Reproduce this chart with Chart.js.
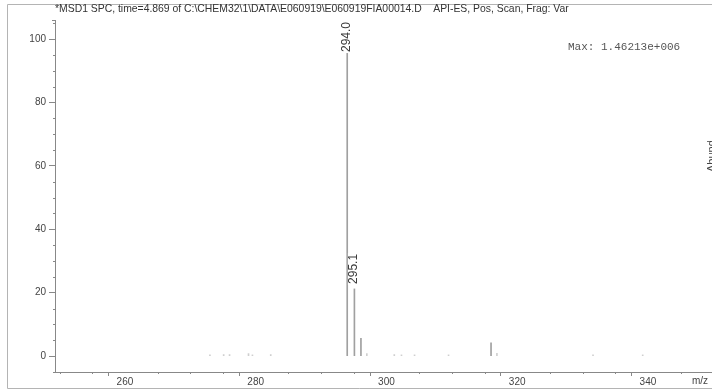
<!DOCTYPE html>
<html>
<head>
<meta charset="utf-8">
<script src="https://cdn.jsdelivr.net/npm/chart.js@4/dist/chart.umd.min.js"></script>
<style>
html,body{margin:0;padding:0;background:#fff;}
#wrap{width:712px;height:390px;}
</style>
</head>
<body>
<div id="wrap"><canvas id="c" width="712" height="390"></canvas></div>
<script>
// ---- data ----
const mzValues = [273.0, 275.1, 276.0, 278.9, 279.5, 282.3, 294.0, 295.1, 296.1, 297.0, 301.2, 302.3, 304.3, 309.5, 316.0, 316.9, 331.6, 339.2];
const abundance = [0.4, 0.5, 0.5, 0.8, 0.4, 0.5, 100, 21.2, 5.6, 0.8, 0.5, 0.4, 0.4, 0.4, 4.2, 0.9, 0.4, 0.4];
const peakLabels = ["294.0", "295.1"];
const peakLabelMz = [294.0, 295.1];
const xTickLabels = [260, 280, 300, 320, 340];
const yTickLabels = [0, 20, 40, 60, 80, 100];
const titleText = "*MSD1 SPC, time=4.869 of C:\\CHEM32\\1\\DATA\\E060919\\E060919FIA00014.D    API-ES, Pos, Scan, Frag: Var";
const maxText = "Max: 1.46213e+006";

const points = mzValues.map((m, i) => ({x: m, y: abundance[i]}));

const framePlugin = {
  id: 'frame',
  beforeDraw(chart) {
    const ctx = chart.ctx;
    ctx.save();
    ctx.fillStyle = '#fff';
    ctx.fillRect(0, 0, chart.width, chart.height);
    ctx.strokeStyle = '#b4b4b4';
    ctx.lineWidth = 1;
    ctx.beginPath();
    ctx.moveTo(712, 4.5); ctx.lineTo(7.5, 4.5); ctx.lineTo(7.5, 388.5); ctx.lineTo(712, 388.5);
    ctx.stroke();
    ctx.fillStyle = '#333';
    ctx.font = '10.4px "Liberation Sans", Arial, sans-serif';
    ctx.textBaseline = 'middle';
    ctx.textAlign = 'left';
    ctx.fillText(titleText, 55, 9);
    ctx.fillStyle = '#555';
    ctx.font = '11px "Liberation Mono", "DejaVu Sans Mono", monospace';
    ctx.fillText(maxText, 568, 47);
    ctx.fillStyle = '#444';
    ctx.font = '10px "Liberation Sans", Arial, sans-serif';
    ctx.fillText('m/z', 692, 381);
    ctx.save();
    ctx.translate(712, 172);
    ctx.rotate(-Math.PI / 2);
    ctx.textBaseline = 'middle';
    ctx.font = '11px "Liberation Sans", Arial, sans-serif';
    ctx.fillText('Abund', 0, 0);
    ctx.restore();
    ctx.restore();
  }
};

const minorTickPlugin = {
  id: 'minorTicks',
  afterDraw(chart) {
    const ctx = chart.ctx;
    const xs = chart.scales.x, ys = chart.scales.y;
    const a = chart.chartArea;
    ctx.save();
    ctx.strokeStyle = '#888';
    ctx.lineWidth = 1;
    ctx.beginPath();
    xs.ticks.forEach(t => {
      if (t.value % 20 !== 0) {
        const px = Math.round(xs.getPixelForValue(t.value)) + 0.5;
        ctx.moveTo(px, a.bottom); ctx.lineTo(px, a.bottom + 2);
      }
    });
    ys.ticks.forEach(t => {
      if (t.value % 20 !== 0) {
        const py = Math.round(ys.getPixelForValue(t.value)) + 0.5;
        ctx.moveTo(a.left, py); ctx.lineTo(a.left - 2, py);
      }
    });
    ctx.moveTo(a.left, a.top + 0.5); ctx.lineTo(a.left - 3, a.top + 0.5);
    ctx.stroke();
    ctx.restore();
  }
};

const peakLabelPlugin = {
  id: 'peakLabels',
  afterDatasetsDraw(chart) {
    const ctx = chart.ctx;
    const xs = chart.scales.x, ys = chart.scales.y;
    const a = chart.chartArea;
    ctx.save();
    ctx.font = '12px "Liberation Sans", Arial, sans-serif';
    peakLabels.forEach((txt, i) => {
      const mz = peakLabelMz[i];
      const idx = mzValues.indexOf(mz);
      const val = abundance[idx];
      const px = xs.getPixelForValue(mz) - 0.5;
      let bottom = ys.getPixelForValue(val) - 5;
      const w = ctx.measureText(txt).width;
      if (bottom - w < a.top + 2) bottom = a.top + 2 + w;
      ctx.save();
      ctx.translate(px, bottom);
      ctx.rotate(-Math.PI / 2);
      ctx.fillStyle = '#fff';
      ctx.fillRect(-1, -6, w + 2, 12);
      ctx.fillStyle = '#3a3a3a';
      ctx.textAlign = 'left';
      ctx.textBaseline = 'middle';
      ctx.fillText(txt, 0, 0);
      ctx.restore();
    });
    ctx.restore();
  }
};

new Chart(document.getElementById('c'), {
  type: 'bar',
  data: {
    datasets: [{
      data: points,
      barThickness: 1,
      backgroundColor: (c) => (c.raw && c.raw.y > 2) ? '#a0a0a0' : '#cfcfcf',
      borderWidth: 0
    }]
  },
  options: {
    responsive: false,
    animation: false,
    devicePixelRatio: 1,
    layout: {padding: {top: 20, left: 0, right: 0, bottom: 0}},
    plugins: {legend: {display: false}, tooltip: {enabled: false}, title: {display: false}},
    scales: {
      x: {
        type: 'linear',
        min: 249.3,
        max: 349.8,
        offset: false,
        afterFit: (s) => { s.height = 18; },
        ticks: {
          stepSize: 5,
          autoSkip: false,
          maxRotation: 0,
          includeBounds: false,
          padding: 0,
          color: '#444',
          font: {family: '"Liberation Sans", Arial, sans-serif', size: 10},
          callback: (v) => xTickLabels.includes(v) ? String(v) : ''
        },
        grid: {
          drawOnChartArea: false,
          tickLength: 4,
          tickColor: (c) => (c.tick && c.tick.value % 20 === 0) ? '#888' : 'rgba(0,0,0,0)'
        },
        border: {color: '#888', width: 1}
      },
      y: {
        min: -5,
        max: 106,
        afterFit: (s) => { s.width = 55; },
        ticks: {
          stepSize: 5,
          autoSkip: false,
          includeBounds: false,
          padding: 3,
          color: '#444',
          font: {family: '"Liberation Sans", Arial, sans-serif', size: 10},
          callback: (v) => yTickLabels.includes(v) ? String(v) : ''
        },
        grid: {
          drawOnChartArea: false,
          tickLength: 6,
          tickColor: (c) => (c.tick && c.tick.value % 20 === 0) ? '#888' : 'rgba(0,0,0,0)'
        },
        border: {color: '#888', width: 1}
      }
    }
  },
  plugins: [framePlugin, minorTickPlugin, peakLabelPlugin]
});
</script>
</body>
</html>
